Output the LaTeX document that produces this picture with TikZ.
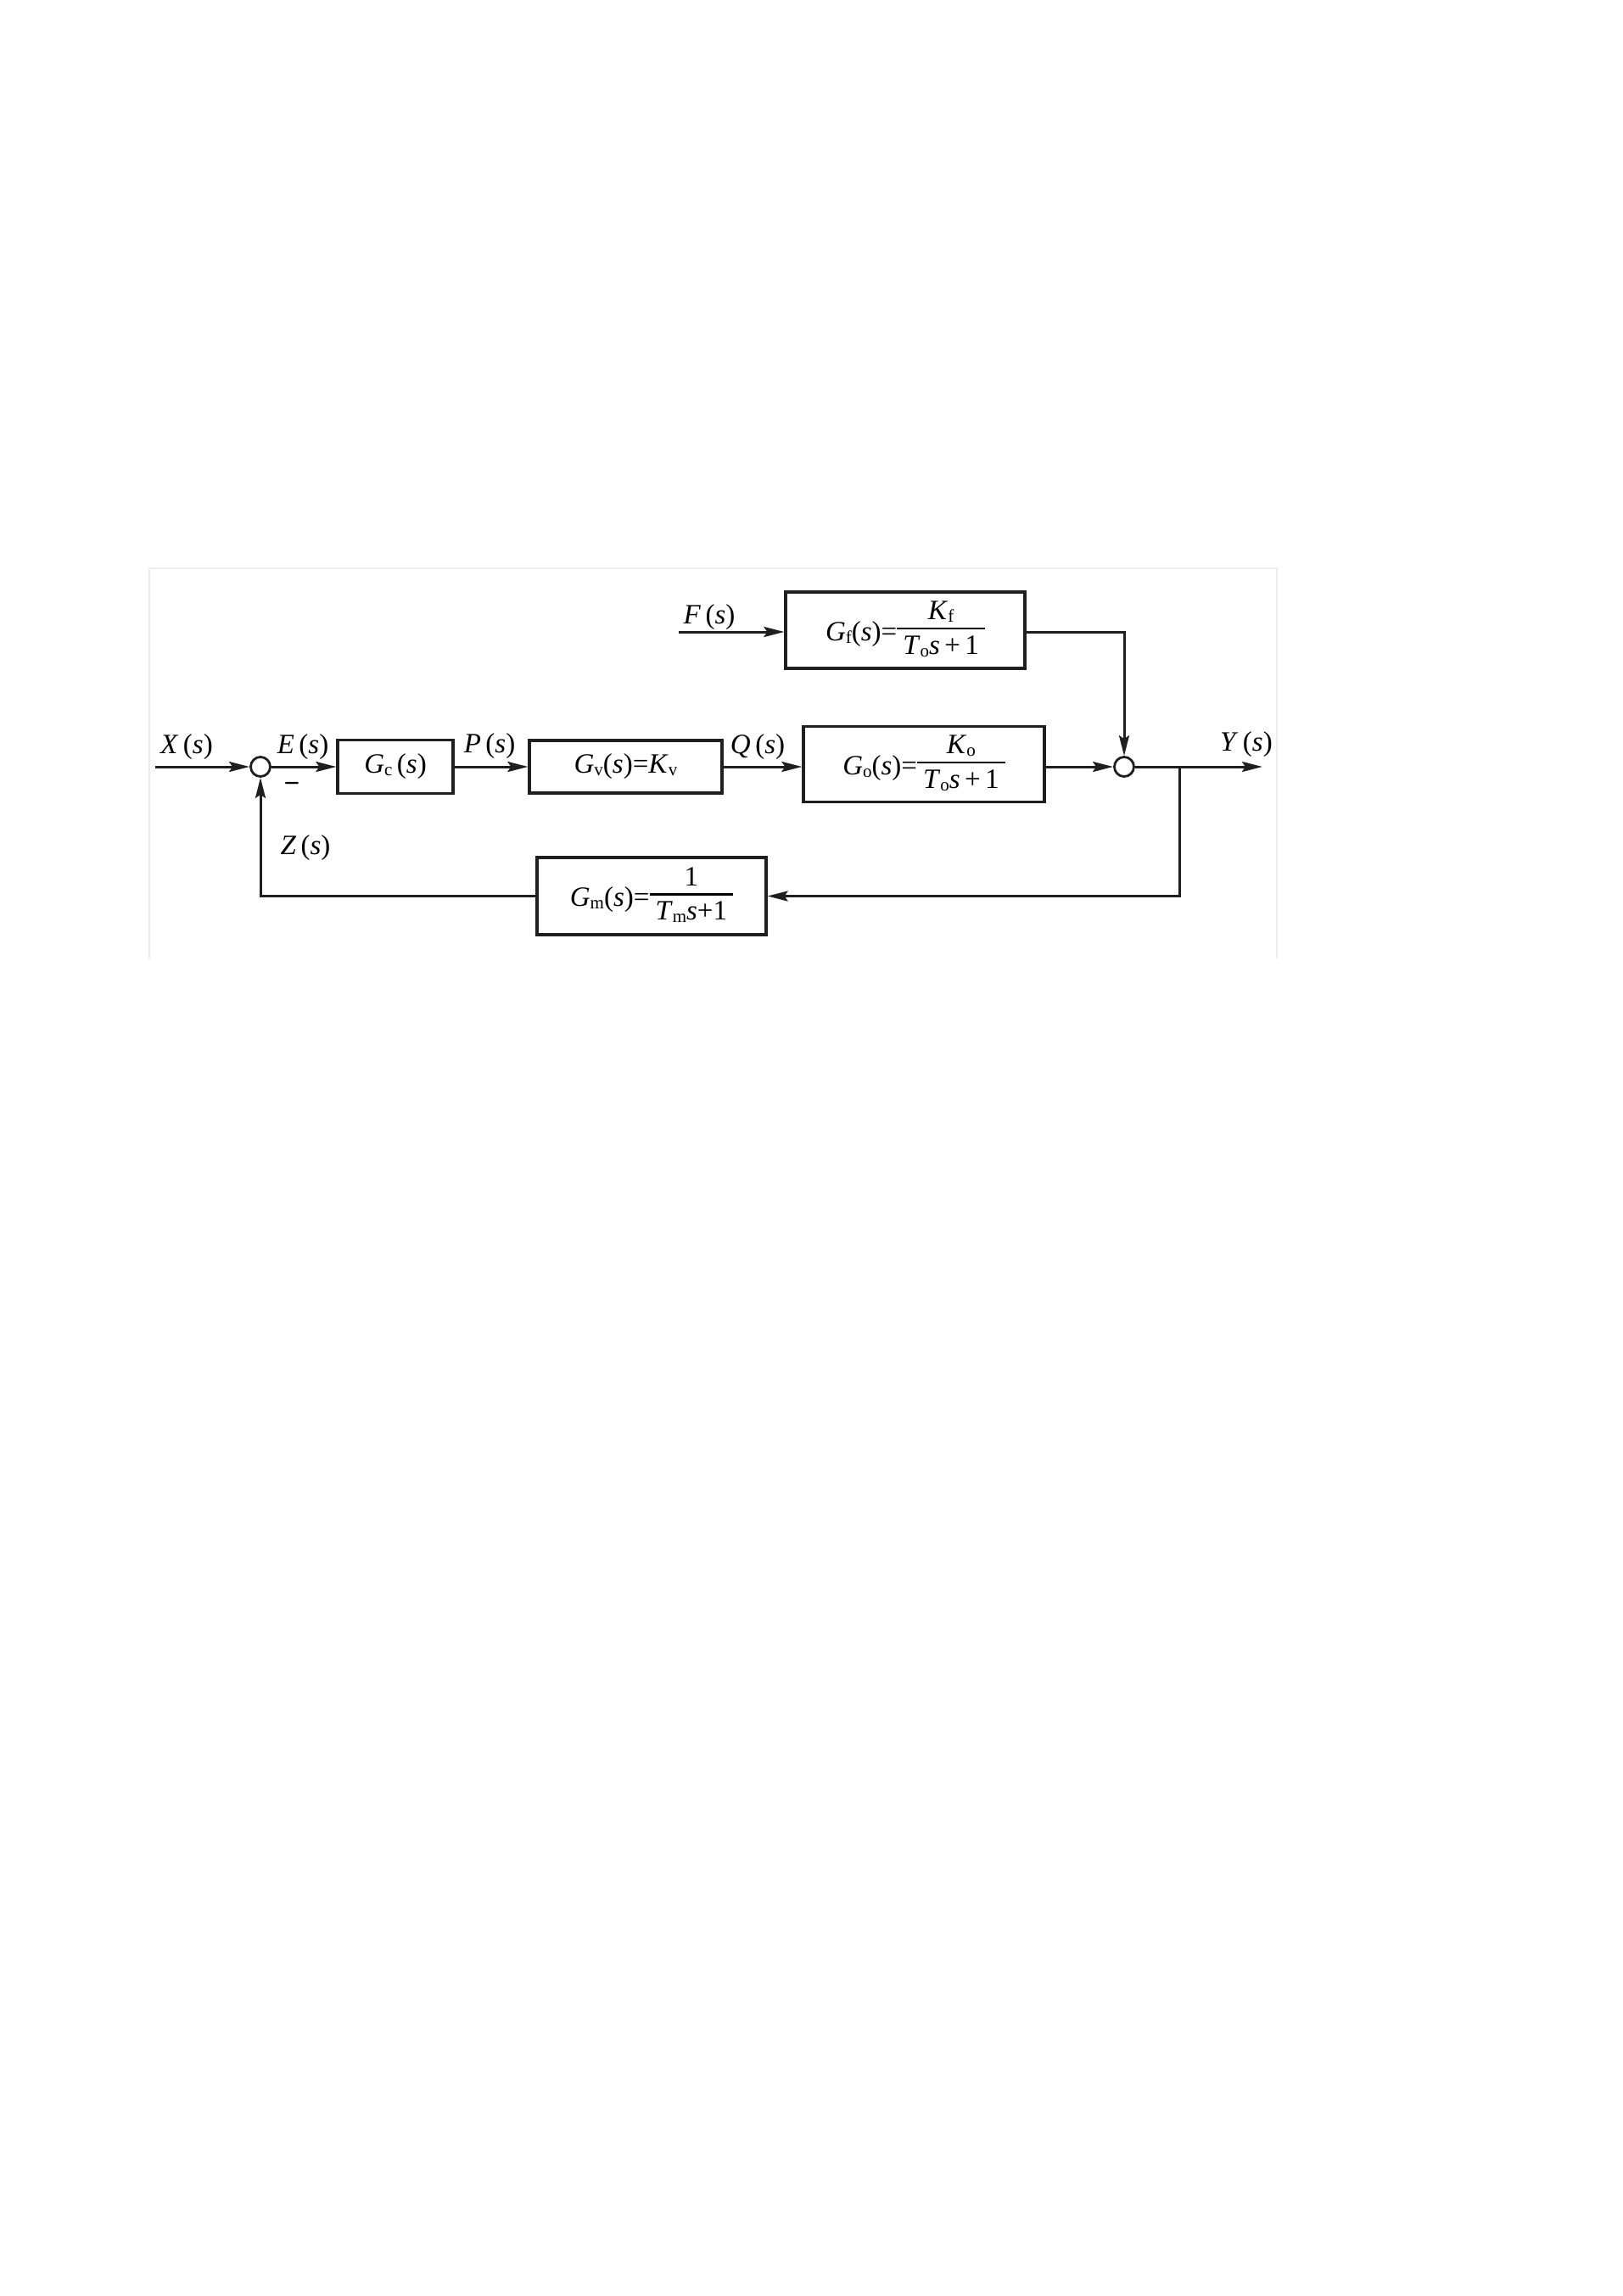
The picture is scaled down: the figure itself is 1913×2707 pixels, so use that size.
\documentclass[tikz,border=0pt]{standalone}
\usepackage{fontspec}
\setmainfont{Liberation Serif}
\usetikzlibrary{arrows.meta}
\newcommand{\vr}[1]{\textit{#1}}
\newcommand{\sbs}[1]{\raisebox{-3pt}{\fontsize{21}{21}\selectfont #1}}
\newcommand{\ffr}[2]{\raisebox{-16pt}{\begin{tabular}[b]{@{\hspace{7pt}}c@{\hspace{7pt}}}#1\\[-3pt]\hline\rule{0pt}{29pt}#2\end{tabular}}}
\setlength{\arrayrulewidth}{2.6pt}
\begin{document}
\begin{tikzpicture}[x=1pt,y=-1pt,
  every node/.style={font=\fontsize{33}{40}\selectfont},
  blk/.style={draw=black!88,line width=3.2pt,inner sep=0pt},
  sumc/.style={circle,draw=black!88,line width=2.8pt,minimum size=23pt,inner sep=0pt,fill=white},
  lab/.style={anchor=base,inner sep=0pt},
  conn/.style={draw=black!88,line width=3pt},
  arr/.style={conn,-{Stealth[length=24pt,width=12pt,inset=4pt]}}]
\useasboundingbox (0,0) rectangle (1913,2707);
\fill[white] (0,0) rectangle (1913,2707);
% faint frame
\draw[gray!15,line width=2pt] (176,1130) -- (176,670) -- (1505,670) -- (1505,1130);
% summing junctions
\node[sumc] (s1) at (307,904) {};
\node[sumc] (s2) at (1325,904) {};
% blocks
\node[blk,minimum width=136pt,minimum height=63pt] (gc) at (466,904) {\vr{G}\sbs{c}\,(\vr{s})};
\node[blk,minimum width=227pt,minimum height=62pt] (gv) at (737.5,904) {\vr{G}\sbs{v}(\vr{s})=\vr{K}\sbs{v}};
\node[blk,minimum width=284pt,minimum height=89pt] (go) at (1089,901) {\vr{G}\sbs{o}(\vr{s})=\ffr{\vr{K}\sbs{o}}{\vr{T}\sbs{o}\vr{s}\,+\,1}};
\node[blk,minimum width=282pt,minimum height=90pt] (gf) at (1067,743) {\vr{G}\sbs{f}(\vr{s})=\ffr{\vr{K}\sbs{f}}{\vr{T}\sbs{o}\vr{s}\,+\,1}};
\node[blk,minimum width=270pt,minimum height=91pt] (gm) at (768,1056.5) {\vr{G}\sbs{m}(\vr{s})=\ffr{1}{\vr{T}\sbs{m}\vr{s}+1}};
% free ends
\coordinate (xin) at (183,904);
\coordinate (yout) at (1488,904);
\coordinate (fin) at (800,745);
\coordinate (br) at (1390,904);
% connectors
\draw[arr] (xin) -- (s1);
\draw[arr] (s1) -- (gc);
\draw[arr] (gc) -- (gv);
\draw[arr] (gv.east) -- (go.west |- gv.east);
\draw[arr] (go.east |- s2) -- (s2);
\draw[arr] (s2) -- (yout);
\draw[arr] (fin) -- (gf.west |- fin);
\draw[arr] (gf.east |- fin) -| (s2.north);
\draw[arr] (br) |- (gm.east);
\draw[arr] (gm.west) -| (s1.south);
% labels
\node[lab] (lx) at (220,888) {\vr{X}\,(\vr{s})};
\node[lab] (le) at (357,888) {\vr{E}\,(\vr{s})};
\node[lab] (lp) at (577,887) {\vr{P}\,(\vr{s})};
\node[lab] (lq) at (893,888) {\vr{Q}\,(\vr{s})};
\node[lab] (ly) at (1469,885) {\vr{Y}\,(\vr{s})};
\node[lab] (lf) at (836,735) {\vr{F}\,(\vr{s})};
\node[lab] (lz) at (360,1007) {\vr{Z}\,(\vr{s})};
\node[inner sep=0pt] (minus) at (344,928) {\textbf{−}};
\end{tikzpicture}
\end{document}
